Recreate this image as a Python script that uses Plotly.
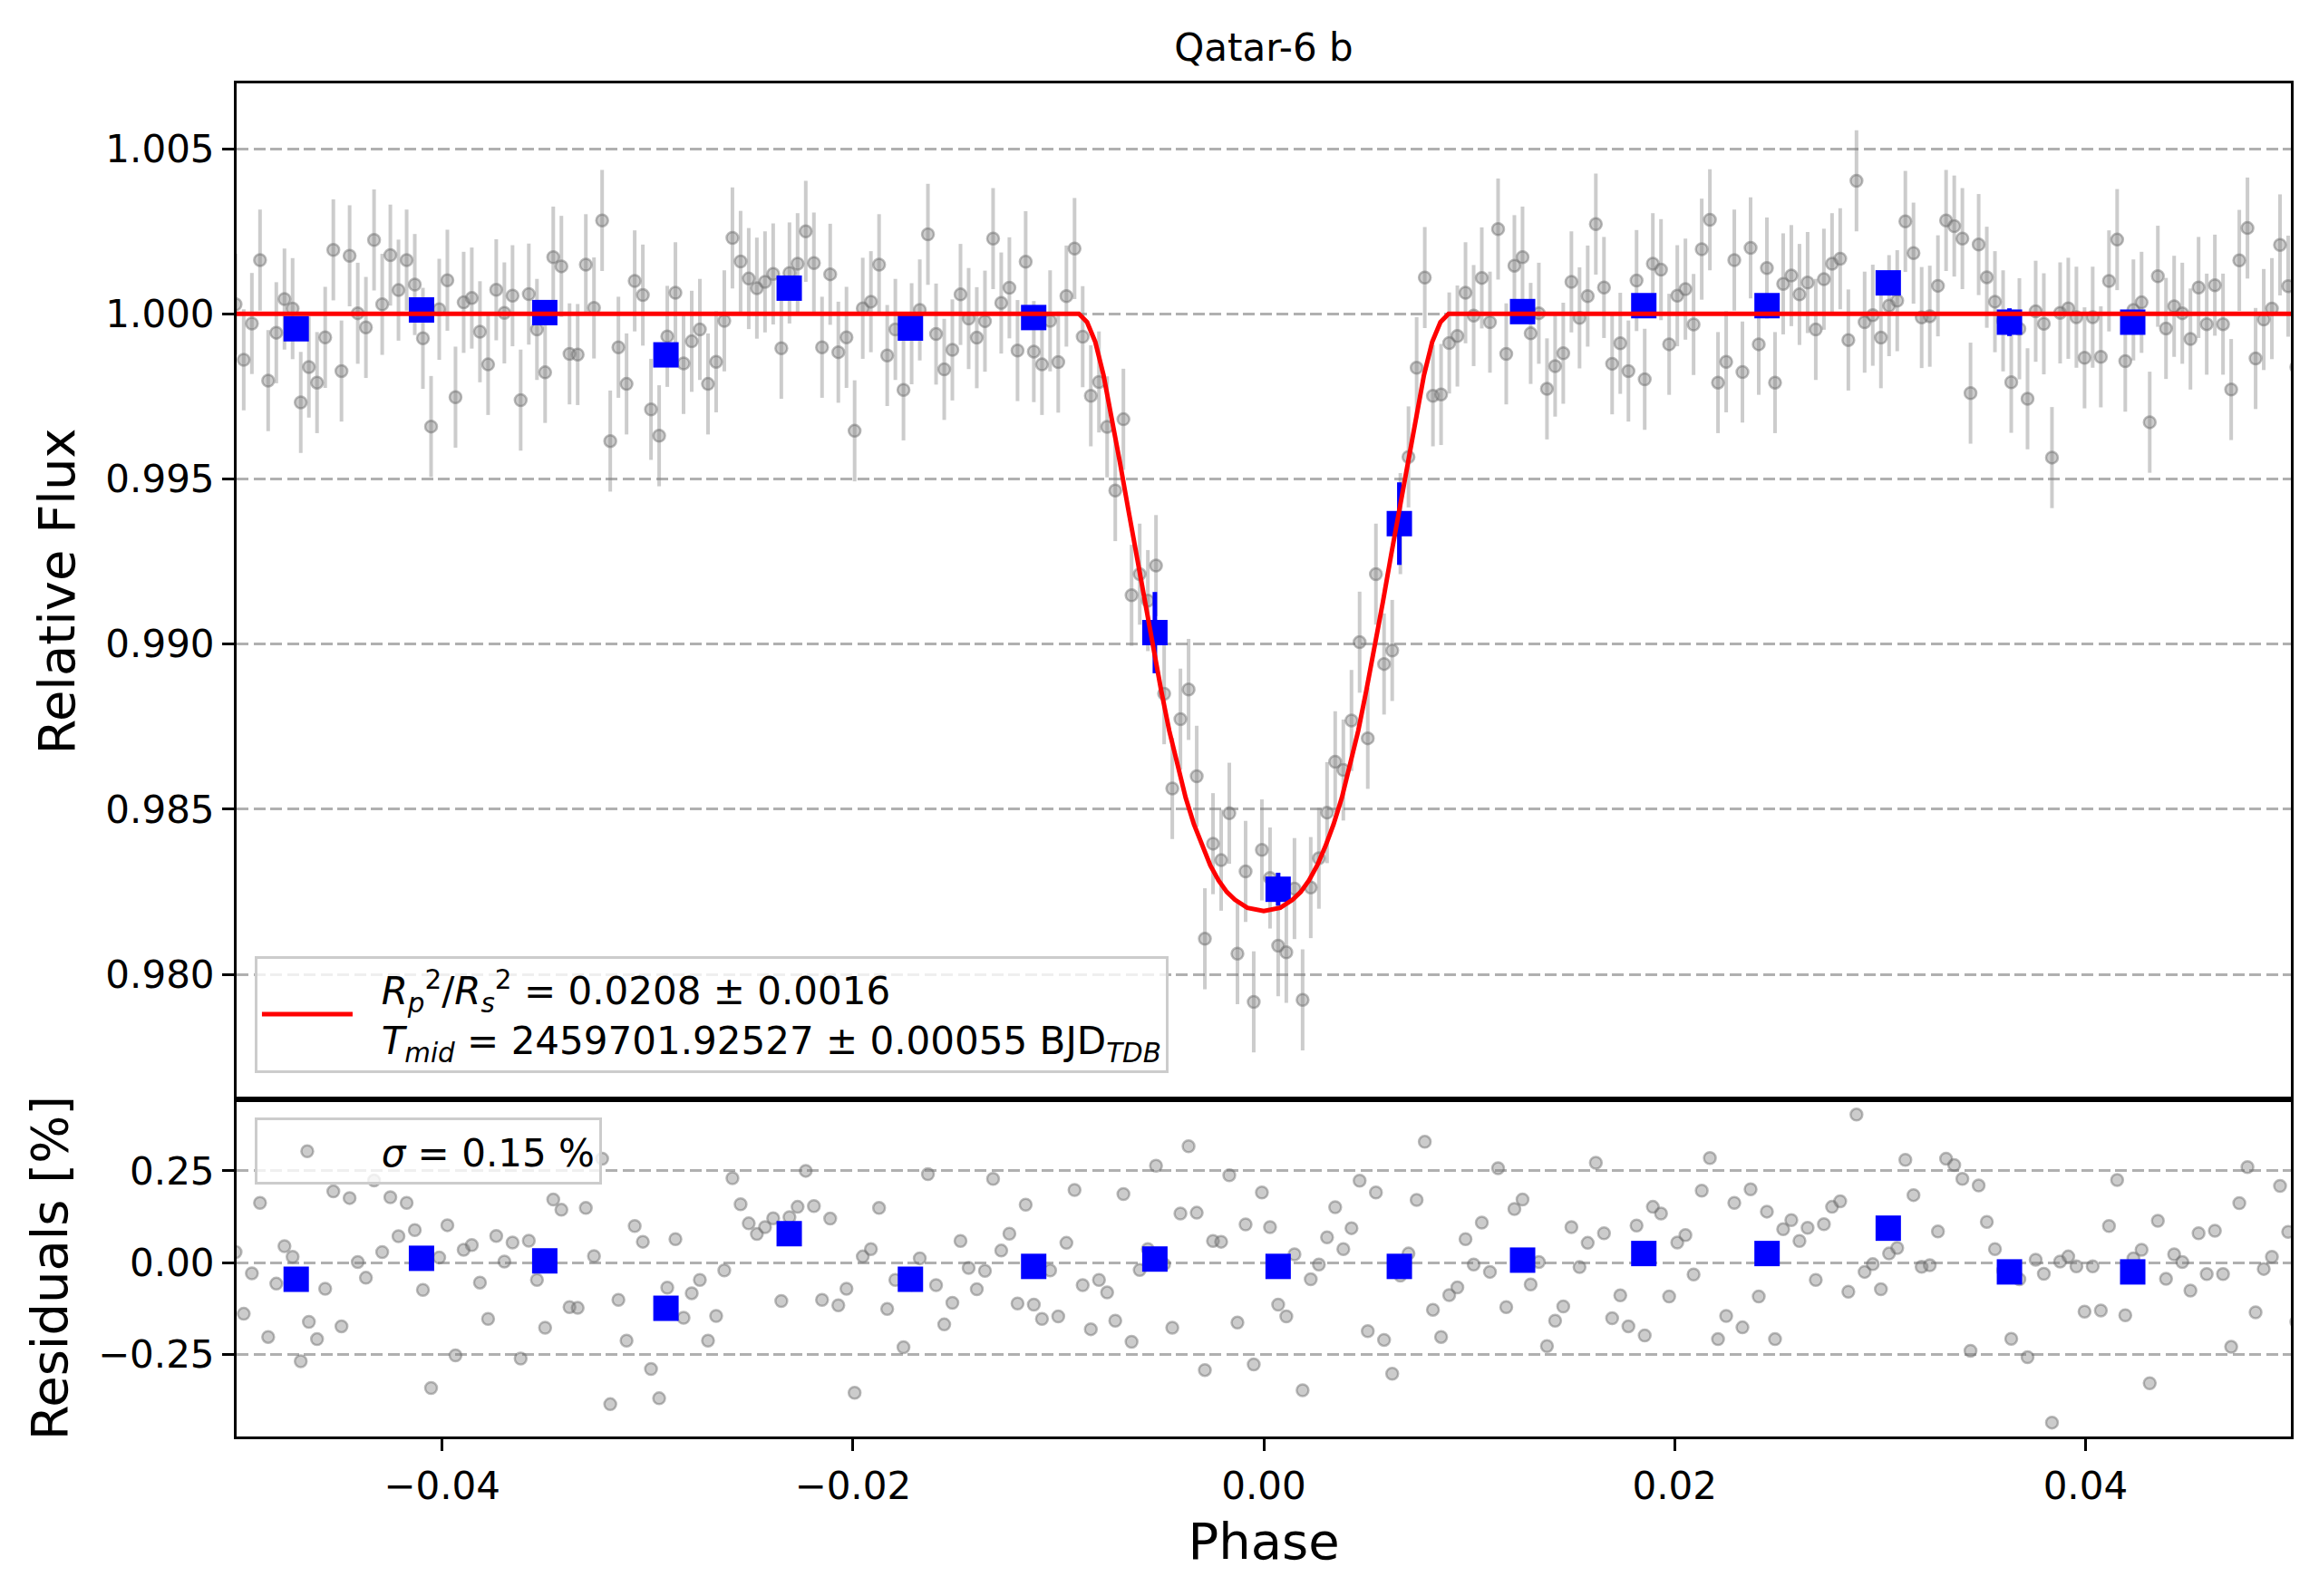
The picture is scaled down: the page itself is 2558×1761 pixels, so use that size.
import numpy as np
import plotly.graph_objects as go

# ---------------- data ----------------
TITLE = "Qatar-6 b"

# regular sampling of the phase-folded light curve
PHASE_FIRST = -0.05005
PHASE_STEP = 0.0003965

# residuals of every exposure, in percent
RESID_PCT = [
    0.029, -0.139, -0.029, 0.163, -0.202, -0.057, 0.045, 0.016, -0.268, -0.161,
    -0.208, -0.071, 0.194, -0.173, 0.176, 0.002, -0.041, 0.224, 0.029, 0.178,
    0.072, 0.163, 0.089, -0.074, -0.341, 0.014, 0.102, -0.252, 0.035, 0.048,
    -0.054, -0.153, 0.073, 0.003, 0.055, -0.261, 0.060, -0.047, -0.177, 0.172,
    0.144, -0.121, -0.123, 0.149, 0.018, 0.283, -0.385, -0.101, -0.212, 0.100,
    0.057, -0.289, -0.369, -0.068, 0.064, -0.150, -0.083, -0.047, -0.212, -0.145,
    -0.021, 0.230, 0.159, 0.107, 0.078, 0.097, 0.121, -0.104, 0.124, 0.152,
    0.250, 0.154, -0.101, 0.120, -0.116, -0.071, -0.354, 0.017, 0.037, 0.149,
    -0.126, -0.047, -0.230, -0.060, 0.012, 0.241, -0.061, -0.168, -0.109, 0.059,
    -0.014, -0.072, -0.022, 0.228, 0.033, 0.079, -0.111, 0.158, -0.114, -0.153,
    -0.021, -0.146, 0.054, 0.198, -0.061, -0.181, -0.047, -0.081, -0.158, 0.187,
    -0.215, -0.020, 0.037, 0.264, -0.004, -0.177, 0.134, 0.317, 0.136, -0.292,
    0.059, 0.057, 0.238, -0.163, 0.104, -0.277, 0.191, 0.097, -0.114, -0.146,
    0.023, -0.347, -0.045, -0.005, 0.069, 0.151, 0.037, 0.094, 0.223, -0.186,
    0.191, -0.210, -0.302, -0.035, 0.025, 0.171, 0.329, -0.128, -0.202, -0.088,
    -0.067, 0.064, -0.005, 0.109, -0.025, 0.257, -0.121, 0.146, 0.172, -0.059,
    0.002, -0.227, -0.158, -0.119, 0.097, -0.012, 0.054, 0.272, 0.080, -0.151,
    -0.089, -0.173, 0.101, -0.198, 0.152, 0.134, -0.092, 0.055, 0.075, -0.032,
    0.196, 0.285, -0.208, -0.145, 0.163, -0.176, 0.200, -0.092, 0.139, -0.208,
    0.091, 0.116, 0.059, 0.095, -0.047, 0.105, 0.152, 0.167, -0.079, 0.403,
    -0.025, -0.004, -0.072, 0.025, 0.040, 0.280, 0.184, -0.011, -0.007, 0.085,
    0.283, 0.266, 0.228, -0.240, 0.210, 0.111, 0.037, -0.021, -0.207, -0.045,
    -0.257, 0.008, -0.030, -0.435, 0.003, 0.017, -0.010, -0.133, -0.010, -0.130,
    0.100, 0.225, -0.143, 0.012, 0.035, -0.328, 0.114, -0.044, 0.023, 0.002,
    -0.076, 0.080, -0.031, 0.087, -0.031, -0.229, 0.162, 0.260, -0.135, -0.017,
    0.016, 0.209, 0.084, -0.161,
]

# relative flux of the exposures inside the transit
IN_TRANSIT_START = 104
FLUX_IN_TRANSIT = [
    0.99931, 0.99752, 0.99794, 0.99658, 0.99465, 0.99681, 0.99148, 0.99212,
    0.99132, 0.99238, 0.98850, 0.98563, 0.98773, 0.98863, 0.98600, 0.98108,
    0.98396, 0.98346, 0.98488, 0.98063, 0.98312, 0.97917, 0.98377, 0.98292,
    0.98087, 0.98067, 0.98260, 0.97923, 0.98263, 0.98352, 0.98490, 0.98644,
    0.98619, 0.98769, 0.99006, 0.98715, 0.99212, 0.98940, 0.98981, 0.99365,
    0.99567, 0.99837, 1.00110, 0.99752, 0.99756,
]
FLUX_ERR = 0.00153

# transit model (red curve)
MODEL_PHASE = [
    -0.0500, -0.0090, -0.0086, -0.0082, -0.0078, -0.0074, -0.0070, -0.0066,
    -0.0062, -0.0058, -0.0054, -0.0050, -0.0046, -0.0042, -0.0038, -0.0034,
    -0.0030, -0.0026, -0.0022, -0.0018, -0.0014, -0.0008, 0.0000,
    0.0008, 0.0014, 0.0018, 0.0022, 0.0026, 0.0030, 0.0034, 0.0038, 0.0042,
    0.0046, 0.0050, 0.0054, 0.0058, 0.0062, 0.0066, 0.0070, 0.0074, 0.0078,
    0.0082, 0.0086, 0.0090, 0.0500,
]
MODEL_FLUX = [
    1.00000, 1.00000, 0.99975, 0.99915, 0.99815, 0.99690, 0.99550, 0.99410,
    0.99270, 0.99128, 0.98990, 0.98862, 0.98738, 0.98630, 0.98535, 0.98455,
    0.98388, 0.98330, 0.98285, 0.98250, 0.98226, 0.98202, 0.98192,
    0.98202, 0.98226, 0.98250, 0.98285, 0.98330, 0.98388, 0.98455, 0.98535,
    0.98630, 0.98738, 0.98862, 0.98990, 0.99128, 0.99270, 0.99410, 0.99550,
    0.99690, 0.99815, 0.99915, 0.99975, 1.00000, 1.00000,
]

# binned points (blue squares)
BIN_PHASE = [-0.0471, -0.0410, -0.0350, -0.0291, -0.0231, -0.0172, -0.0112, -0.0053,
             0.0007, 0.0066, 0.0126, 0.0185, 0.0245, 0.0304, 0.0363, 0.0423]
BIN_FLUX = [0.99955, 1.00012, 1.00004, 0.99876, 1.00078, 0.99957, 0.99989, 0.99035,
            0.98258, 0.99365, 1.00007, 1.00025, 1.00025, 1.00094, 0.99975, 0.99975]
BIN_FLUX_ERR = [0.0003, 0.0003, 0.0003, 0.0003, 0.0003, 0.0003, 0.0003, 0.00123,
                0.0005, 0.00125, 0.0003, 0.0003, 0.0003, 0.0003, 0.00042, 0.0003]
BIN_RESID = [-0.045, 0.012, 0.005, -0.124, 0.079, -0.045, -0.010, 0.010,
             -0.010, -0.010, 0.007, 0.025, 0.025, 0.094, -0.025, -0.025]

X_TICKS = [-0.04, -0.02, 0.00, 0.02, 0.04]
Y_TICKS_TOP = [0.980, 0.985, 0.990, 0.995, 1.000, 1.005]
Y_TICKS_RES = [-0.25, 0.00, 0.25]

GAP = "\u00a0\u00a0"
LEGEND_MODEL = (GAP + "<i>R</i><sub><i>p</i></sub><sup>2</sup>/<i>R</i><sub><i>s</i></sub><sup>2</sup>"
                " = 0.0208 ± 0.0016<br>" + GAP +
                "<i>T</i><sub><i>mid</i></sub> = 2459701.92527 ± 0.00055 BJD<sub><i>TDB</i></sub>")
LEGEND_RESID = GAP + "<i>σ</i> = 0.15 %"

# ---------------- assemble ----------------
resid = np.array(RESID_PCT)
n = len(resid)
phase = PHASE_FIRST + PHASE_STEP * np.arange(n)
flux = 1.0 + resid / 100.0
flux[IN_TRANSIT_START:IN_TRANSIT_START + len(FLUX_IN_TRANSIT)] = FLUX_IN_TRANSIT

FONT = "DejaVu Sans"
GREY = "rgba(128,128,128,0.4)"
GREY_EDGE = "rgba(105,105,105,0.45)"
GRID = "#b0b0b0"

fig = go.Figure()

fig.add_trace(go.Scatter(
    x=phase, y=flux, mode="markers", showlegend=False,
    marker=dict(size=13, color=GREY, line=dict(color=GREY_EDGE, width=2.5)),
    error_y=dict(type="data", array=[FLUX_ERR] * n, color=GREY, thickness=4, width=0),
    xaxis="x", yaxis="y", hoverinfo="skip"))

fig.add_trace(go.Scatter(
    x=BIN_PHASE, y=BIN_FLUX, mode="markers", showlegend=False,
    marker=dict(symbol="square", size=28, color="#0000ff", line=dict(width=0)),
    error_y=dict(type="data", array=BIN_FLUX_ERR, color="#0000ff", thickness=5, width=0),
    xaxis="x", yaxis="y"))

fig.add_trace(go.Scatter(
    x=MODEL_PHASE, y=MODEL_FLUX, mode="lines", name=LEGEND_MODEL,
    line=dict(color="#ff0000", width=5), legend="legend",
    xaxis="x", yaxis="y"))

fig.add_trace(go.Scatter(
    x=phase, y=resid, mode="markers", name=LEGEND_RESID, legend="legend2",
    marker=dict(size=13, color=GREY, line=dict(color=GREY_EDGE, width=2.5)),
    xaxis="x2", yaxis="y2", hoverinfo="skip"))

fig.add_trace(go.Scatter(
    x=BIN_PHASE, y=BIN_RESID, mode="markers", showlegend=False,
    marker=dict(symbol="square", size=28, color="#0000ff", line=dict(width=0)),
    xaxis="x2", yaxis="y2"))

SPLIT = 0.2492
axis_common = dict(showline=True, linecolor="black", linewidth=3, mirror=True,
                   zeroline=False, tickfont=dict(family=FONT, size=42, color="black"),
                   tickcolor="black", tickwidth=3, ticklen=13)

fig.update_layout(
    width=2558, height=1761,
    margin=dict(l=261, r=31, t=92, b=176, autoexpand=False),
    paper_bgcolor="white", plot_bgcolor="white",
    font=dict(family=FONT, size=42, color="black"),
    title=dict(text=TITLE, x=0.5, xref="paper", xanchor="center",
               y=1 - 52 / 1761, yanchor="middle",
               font=dict(family=FONT, size=42, color="black")),
    xaxis=dict(domain=[0, 1], range=[-0.05, 0.05], anchor="y", matches="x2",
               showticklabels=False, ticks="", showgrid=False,
               showline=True, linecolor="black", linewidth=3, mirror=True, zeroline=False),
    yaxis=dict(domain=[SPLIT, 1], range=[0.97622, 1.00698], anchor="x",
               tickvals=Y_TICKS_TOP, tickformat=".3f", ticks="outside",
               showgrid=True, gridcolor=GRID, gridwidth=2.8, griddash="13px,5.5px",
               title=dict(text="Relative Flux", font=dict(family=FONT, size=56), standoff=16),
               **axis_common),
    xaxis2=dict(domain=[0, 1], range=[-0.05, 0.05], anchor="y2",
                tickvals=X_TICKS, tickformat=".2f", ticks="outside", showgrid=False,
                ticklabelstandoff=3,
                title=dict(text="Phase", font=dict(family=FONT, size=56), standoff=18),
                **axis_common),
    yaxis2=dict(domain=[0, SPLIT], range=[-0.4729, 0.4447], anchor="x2",
                tickvals=Y_TICKS_RES, tickformat=".2f", ticks="outside",
                showgrid=True, gridcolor=GRID, gridwidth=2.8, griddash="13px,5.5px",
                title=dict(text="Residuals [%]", font=dict(family=FONT, size=56), standoff=16),
                **axis_common),
    legend=dict(x=0.0088, y=0.3118, xanchor="left", yanchor="middle",
                bgcolor="rgba(255,255,255,0.8)", bordercolor="#cccccc", borderwidth=3,
                font=dict(family=FONT, size=42, color="black"), itemwidth=100),
    legend2=dict(x=0.0088, y=0.2107, xanchor="left", yanchor="middle",
                 bgcolor="rgba(255,255,255,0.8)", bordercolor="#cccccc", borderwidth=3,
                 font=dict(family=FONT, size=42, color="black"), itemwidth=100),
)

fig.write_html("out.html", config={"displayModeBar": False},
               post_script="document.body.style.margin='0';")
